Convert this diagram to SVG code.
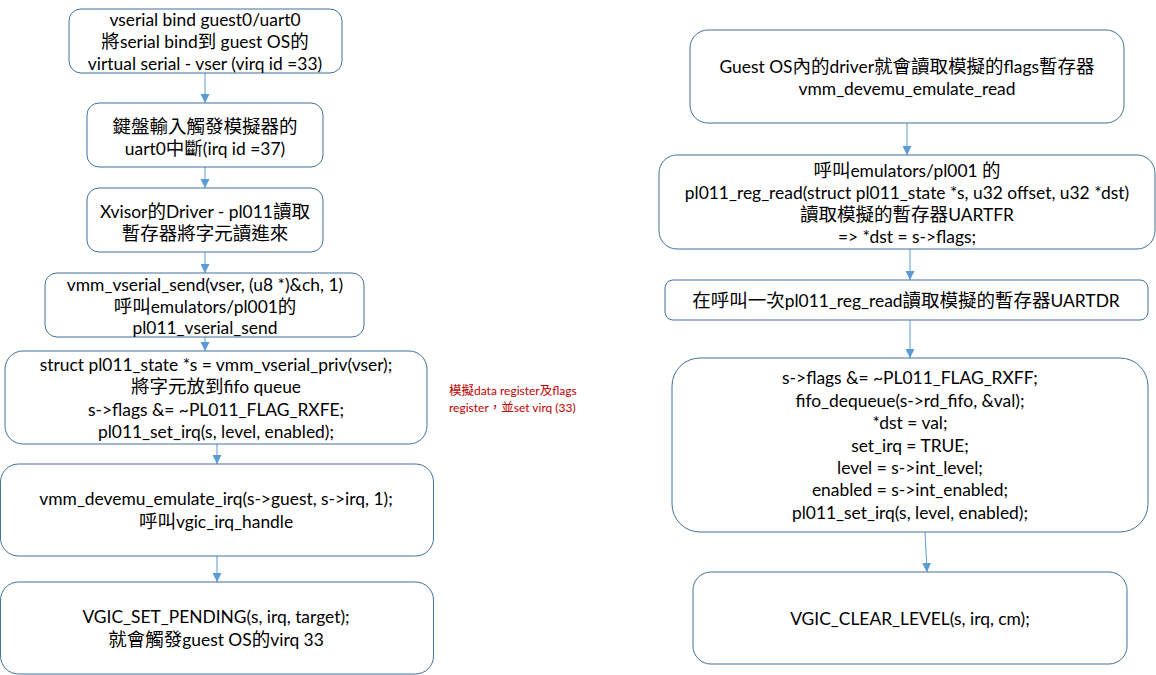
<svg xmlns="http://www.w3.org/2000/svg" width="1156" height="675" viewBox="0 0 1156 675">
<style>
.box{fill:#fff;stroke:#41719C;stroke-width:1}
text{font-family:Lato,"Noto Sans CJK TC",sans-serif;font-size:17.4px;fill:#000;text-anchor:middle;dominant-baseline:central}
.k{font-size:18.5px}
.note{font-size:12px;fill:#C00000;text-anchor:start}
.note .k{font-size:12.5px}
.c{stroke:#5B9BD5;stroke-width:1;fill:none;marker-end:url(#ah)}
</style>
<defs>
<marker id="ah" viewBox="0 0 10 10" refX="10" refY="5" markerWidth="9" markerHeight="9" markerUnits="userSpaceOnUse" orient="auto">
<path d="M0,0 L10,5 L0,10 z" fill="#5B9BD5"/>
</marker>
</defs>
<rect width="1156" height="675" fill="#fff"/>
<g id="connectors">
<line class="c" x1="205" y1="73" x2="205" y2="103"/>
<line class="c" x1="205" y1="167" x2="205" y2="188"/>
<line class="c" x1="205" y1="252" x2="205" y2="273"/>
<line class="c" x1="205" y1="337" x2="205" y2="351"/>
<line class="c" x1="217" y1="444" x2="217" y2="464"/>
<line class="c" x1="217" y1="556" x2="217" y2="582"/>
<line class="c" x1="907" y1="123" x2="907" y2="155"/>
<line class="c" x1="910" y1="249" x2="910" y2="280"/>
<line class="c" x1="910" y1="320" x2="910" y2="358"/>
<line class="c" x1="925" y1="532" x2="927" y2="572"/>
</g>
<g id="n1">
<rect class="box" x="69" y="9" width="273" height="64" rx="12"/>
<text x="205" y="19">vserial bind guest0/uart0</text>
<text x="205" y="41"><tspan class="k">將</tspan>serial bind<tspan class="k">到</tspan> guest OS<tspan class="k">的</tspan></text>
<text x="205" y="63">virtual serial - vser (virq id =33)</text>
</g>
<g id="n2">
<rect class="box" x="87" y="103" width="236" height="64" rx="12"/>
<text x="205" y="126"><tspan class="k">鍵盤輸入觸發模擬器的</tspan></text>
<text x="205" y="148">uart0<tspan class="k">中斷</tspan>(irq id =37)</text>
</g>
<g id="n3">
<rect class="box" x="87" y="188" width="236" height="64" rx="12"/>
<text x="205" y="211">Xvisor<tspan class="k">的</tspan>Driver - pl011<tspan class="k">讀取</tspan></text>
<text x="205" y="233"><tspan class="k">暫存器將字元讀進來</tspan></text>
</g>
<g id="n4">
<rect class="box" x="45" y="273" width="319" height="64" rx="12"/>
<text x="205" y="284">vmm_vserial_send(vser, (u8 *)&amp;ch, 1)</text>
<text x="205" y="306"><tspan class="k">呼叫</tspan>emulators/pl001<tspan class="k">的</tspan></text>
<text x="205" y="327">pl011_vserial_send</text>
</g>
<g id="n5">
<rect class="box" x="5" y="351" width="422" height="93" rx="18"/>
<text x="216" y="364">struct pl011_state *s = vmm_vserial_priv(vser);</text>
<text x="216" y="386"><tspan class="k">將字元放到</tspan>fifo queue</text>
<text x="216" y="409">s-&gt;flags &amp;= ~PL011_FLAG_RXFE;</text>
<text x="216" y="431">pl011_set_irq(s, level, enabled);</text>
</g>
<g id="note">
<text class="note" x="449" y="390"><tspan class="k">模擬</tspan>data register<tspan class="k">及</tspan>flags</text>
<text class="note" x="449" y="407">register<tspan class="k">，並</tspan>set virq (33)</text>
</g>
<g id="n6">
<rect class="box" x="0.5" y="464" width="433" height="92" rx="18"/>
<text x="216" y="498">vmm_devemu_emulate_irq(s-&gt;guest, s-&gt;irq, 1);</text>
<text x="216" y="521"><tspan class="k">呼叫</tspan>vgic_irq_handle</text>
</g>
<g id="n7">
<rect class="box" x="0.5" y="582" width="433" height="92" rx="18"/>
<text x="216" y="616">VGIC_SET_PENDING(s, irq, target);</text>
<text x="216" y="639"><tspan class="k">就會觸發</tspan>guest OS<tspan class="k">的</tspan>virq 33</text>
</g>
<g id="nA">
<rect class="box" x="690" y="30" width="434" height="93" rx="18"/>
<text x="907" y="66">Guest OS<tspan class="k">內的</tspan>driver<tspan class="k">就會讀取模擬的</tspan>flags<tspan class="k">暫存器</tspan></text>
<text x="907" y="88">vmm_devemu_emulate_read</text>
</g>
<g id="nB">
<rect class="box" x="659" y="155" width="496" height="94" rx="18"/>
<text x="907" y="170"><tspan class="k">呼叫</tspan>emulators/pl001 <tspan class="k">的</tspan></text>
<text x="907" y="192">pl011_reg_read(struct pl011_state *s, u32 offset, u32 *dst)</text>
<text x="907" y="214"><tspan class="k">讀取模擬的暫存器</tspan>UARTFR</text>
<text x="907" y="236">=&gt; *dst = s-&gt;flags;</text>
</g>
<g id="nC">
<rect class="box" x="665" y="280" width="483" height="40" rx="8"/>
<text x="906" y="300"><tspan class="k">在呼叫一次</tspan>pl011_reg_read<tspan class="k">讀取模擬的暫存器</tspan>UARTDR</text>
</g>
<g id="nD">
<rect class="box" x="672" y="358" width="476" height="174" rx="28"/>
<text x="910" y="377">s-&gt;flags &amp;= ~PL011_FLAG_RXFF;</text>
<text x="910" y="400">fifo_dequeue(s-&gt;rd_fifo, &amp;val);</text>
<text x="910" y="422">*dst = val;</text>
<text x="910" y="445">set_irq = TRUE;</text>
<text x="910" y="467">level = s-&gt;int_level;</text>
<text x="910" y="489">enabled = s-&gt;int_enabled;</text>
<text x="910" y="512">pl011_set_irq(s, level, enabled);</text>
</g>
<g id="nE">
<rect class="box" x="693" y="572" width="434" height="92" rx="18"/>
<text x="910" y="618">VGIC_CLEAR_LEVEL(s, irq, cm);</text>
</g>
</svg>
